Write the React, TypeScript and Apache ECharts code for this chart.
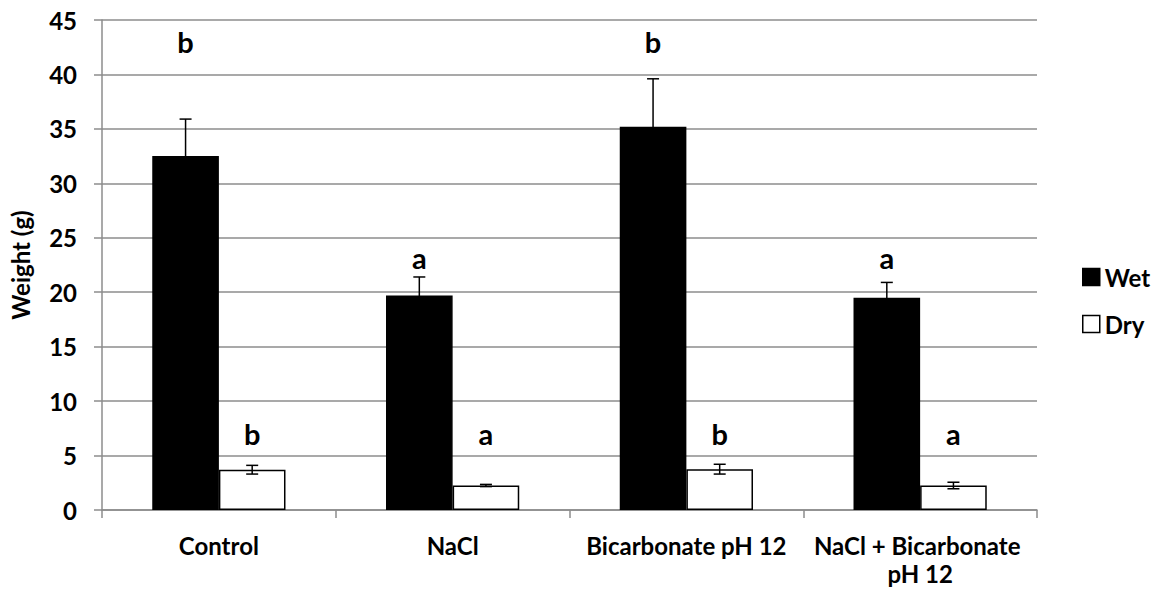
import React, { useEffect, useRef } from "react";
import * as echarts from "echarts";

const categories = ["Control", "NaCl", "Bicarbonate pH 12", "NaCl + Bicarbonate pH 12"];
const wetValues = [32.5, 19.7, 35.2, 19.5];
const wetErrors = [3.4, 1.7, 4.4, 1.4];
const dryValues = [3.7, 2.25, 3.75, 2.25];
const dryErrors = [0.4, 0.1, 0.45, 0.3];
const wetLetters = ["b", "a", "b", "a"];
const dryLetters = ["b", "a", "b", "a"];
const wetLetterPos = [42.1, 22.2, 42.1, 22.2];
const dryLetterPos = [6.1, 6.1, 6.1, 6.1];
const yTicks = { min: 0, max: 45, interval: 5 };

const FONT = "Lato";
const GAP = 0.43;
const GRID_COLOR = "#8c8c8c";
const FS = 24;

function makeErrSeries(name: string, values: number[], errs: number[], letters: string[], letterPos: number[], side: number) {
  return {
    type: "custom",
    name: name + "-err",
    z: 5,
    silent: true,
    data: values.map((v, i) => [i, v, errs[i], letterPos[i]]),
    encode: { x: 0, y: 1 },
    renderItem: (params: any, api: any) => {
      const idx = api.value(0);
      const val = api.value(1);
      const err = api.value(2);
      const lp = api.value(3);
      const band = api.size([1, 0])[0];
      const barW = (band * (1 - GAP)) / 2;
      const c = api.coord([idx, val]);
      const x = c[0] + (side * barW) / 2;
      const yTop = api.coord([idx, val + err])[1];
      const yBot = api.coord([idx, val - err])[1];
      const yL = api.coord([idx, lp])[1];
      const cap = 6;
      const ls = { stroke: "#000", lineWidth: 1.5 };
      const fs = 29;
      return {
        type: "group",
        children: [
          { type: "line", shape: { x1: x, y1: yTop, x2: x, y2: yBot }, style: ls },
          { type: "line", shape: { x1: x - cap, y1: yTop, x2: x + cap, y2: yTop }, style: ls },
          { type: "line", shape: { x1: x - cap, y1: yBot, x2: x + cap, y2: yBot }, style: ls },
          {
            type: "text",
            x: x,
            y: yL - 0.36 * fs,
            style: {
              text: letters[params.dataIndex],
              fill: "#000",
              font: `bold ${fs}px ${FONT}`,
              align: "center",
              verticalAlign: "middle",
            },
          },
        ],
      };
    },
  };
}

export default function App() {
  const ref = useRef<HTMLDivElement>(null);
  useEffect(() => {
    if (!ref.current) return;
    const chart = echarts.init(ref.current, undefined, { renderer: "svg" });
    chart.setOption({
      animation: false,
      backgroundColor: "#fff",
      textStyle: { fontFamily: FONT },
      grid: { left: 96, right: 119, top: 20, bottom: 81, containLabel: false },
      legend: {
        orient: "vertical",
        left: 1077,
        top: 260,
        itemWidth: 17,
        itemHeight: 17,
        itemGap: 23,
        itemStyle: { borderWidth: 1.5 },
        textStyle: { fontFamily: FONT, fontWeight: "bold", fontSize: FS, color: "#000" },
        icon: "rect",
        data: ["Wet", "Dry"],
      },
      xAxis: {
        type: "category",
        data: categories,
        axisLine: { show: true, lineStyle: { color: GRID_COLOR, width: 1.5 } },
        axisTick: { show: true, length: 8, lineStyle: { color: GRID_COLOR, width: 1.5 } },
        axisLabel: {
          fontFamily: FONT,
          fontWeight: "bold",
          fontSize: FS,
          color: "#000",
          margin: 21,
          lineHeight: 28,
          width: 232,
          overflow: "break",
          interval: 0,
        },
      },
      yAxis: {
        type: "value",
        min: yTicks.min,
        max: yTicks.max,
        interval: yTicks.interval,
        name: "Weight (g)",
        nameLocation: "middle",
        nameGap: 70,
        nameRotate: 90,
        nameTextStyle: { fontFamily: FONT, fontWeight: "bold", fontSize: FS, color: "#000" },
        axisLine: { show: true, lineStyle: { color: GRID_COLOR, width: 1.5 } },
        axisTick: { show: true, length: 8, lineStyle: { color: GRID_COLOR, width: 1.5 } },
        axisLabel: { fontFamily: FONT, fontWeight: "bold", fontSize: FS, color: "#000", margin: 25 },
        splitLine: { show: true, lineStyle: { color: GRID_COLOR, width: 1.5 } },
      },
      series: [
        {
          type: "bar",
          name: "Wet",
          data: wetValues,
          barGap: "0%",
          barCategoryGap: GAP * 100 + "%",
          itemStyle: { color: "#000", borderColor: "#000", borderWidth: 1.5 },
        },
        {
          type: "bar",
          name: "Dry",
          data: dryValues,
          barGap: "0%",
          barCategoryGap: GAP * 100 + "%",
          itemStyle: { color: "#fff", borderColor: "#000", borderWidth: 1.5 },
        },
        makeErrSeries("Wet", wetValues, wetErrors, wetLetters, wetLetterPos, -1),
        makeErrSeries("Dry", dryValues, dryErrors, dryLetters, dryLetterPos, 1),
      ],
    });
    return () => chart.dispose();
  }, []);
  return <div ref={ref} style={{ width: 1156, height: 591, position: "absolute", left: 0, top: 0 }} />;
}
